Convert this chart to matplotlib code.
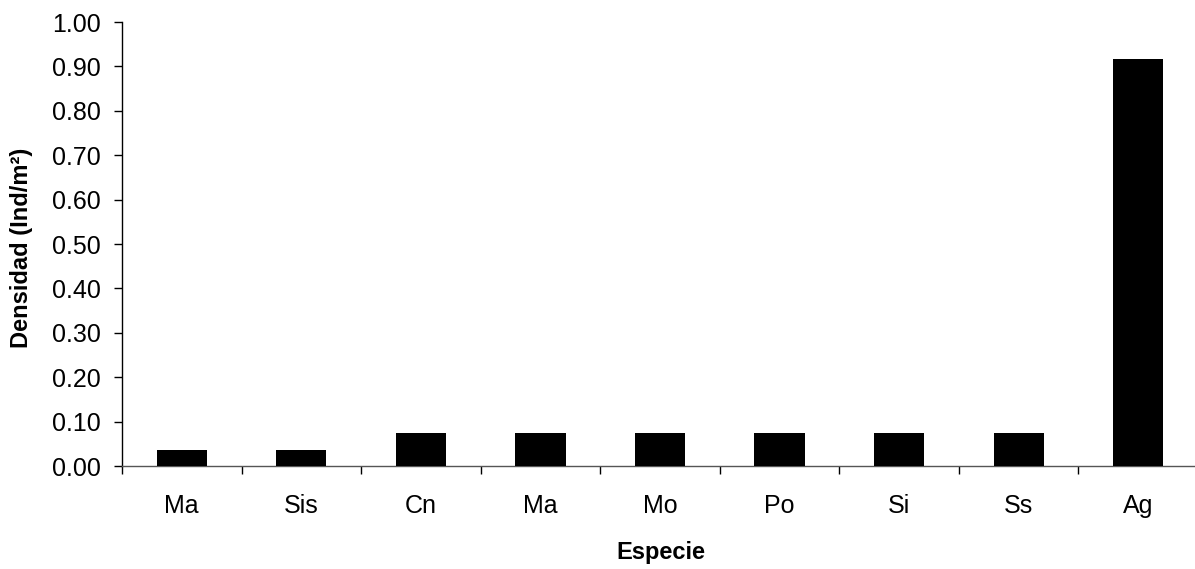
import matplotlib
matplotlib.use("Agg")
import matplotlib.pyplot as plt
import numpy as np

categories = ["Ma", "Sis", "Cn", "Ma", "Mo", "Po", "Si", "Ss", "Ag"]
values = [0.036, 0.036, 0.074, 0.074, 0.074, 0.074, 0.074, 0.074, 0.917]
yticks = [0.0, 0.1, 0.2, 0.3, 0.4, 0.5, 0.6, 0.7, 0.8, 0.9, 1.0]

plt.rcParams['font.family'] = ['Liberation Sans', 'DejaVu Sans']

W, H = 1195, 569
fig = plt.figure(figsize=(W / 100, H / 100), dpi=100)
ax = fig.add_axes([122 / W, (H - 466) / H, 1076 / W, 444 / H])

x = np.arange(len(categories))
ax.bar(x, values, width=0.42, color="black", zorder=3)

ax.set_xlim(-0.5, len(categories) - 0.5)
ax.set_ylim(0, 1.0)
ax.set_yticks(yticks)
ax.set_yticklabels([f"{v:.2f}" for v in yticks], fontsize=18)

ax.set_xticks(np.arange(len(categories) + 1) - 0.5)
ax.set_xticklabels([])
ax.set_xticks(x, minor=True)
ax.set_xticklabels(categories, minor=True, fontsize=18)
ax.tick_params(axis="x", which="major", direction="out", length=6, width=1)
ax.tick_params(axis="x", which="minor", length=0, pad=20)
ax.tick_params(axis="y", direction="out", length=6, width=1, pad=9)

for s in ["top", "right"]:
    ax.spines[s].set_visible(False)
ax.spines["left"].set_linewidth(1)
ax.spines["bottom"].set_linewidth(1)
ax.spines["bottom"].set_color("#555555")

fig.text(661 / W, 1 - 553 / H, "Especie", fontsize=17, fontweight="bold", ha="center", va="center")
fig.text(22 / W, 1 - 248 / H, "Densidad (Ind/m²)", fontsize=17, fontweight="bold",
         ha="center", va="center", rotation=90)

fig.savefig("out.png", dpi=100)
